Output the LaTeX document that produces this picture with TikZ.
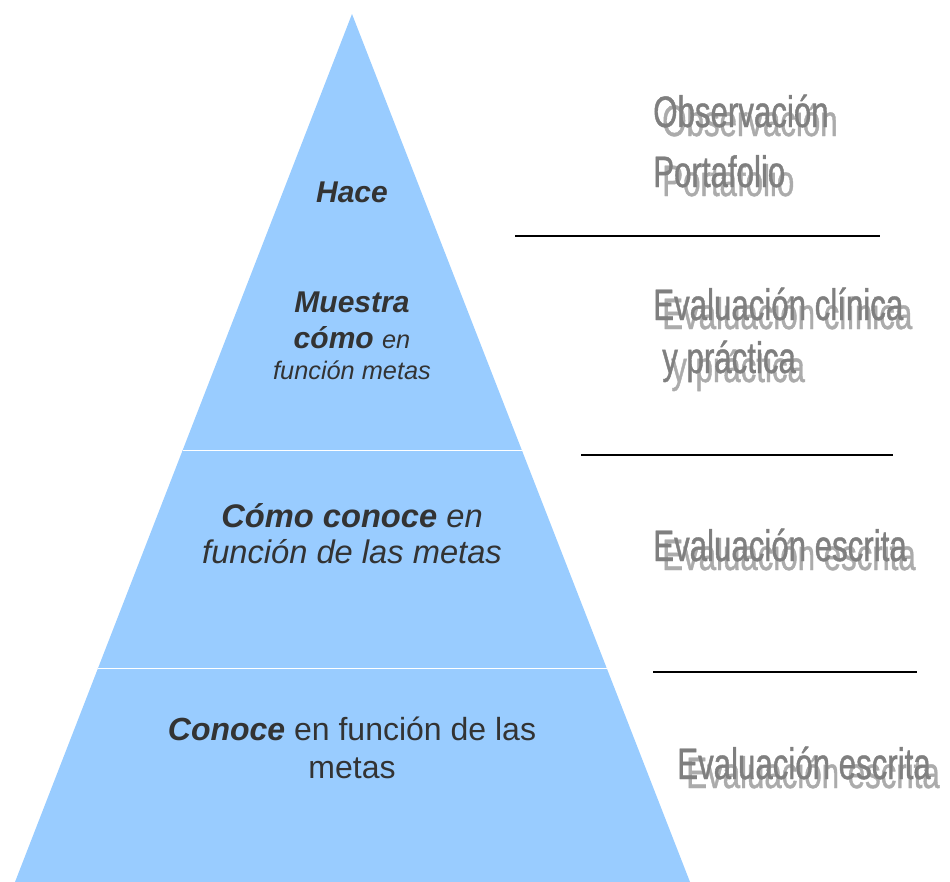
\documentclass[tikz,border=0pt]{standalone}
\usepackage{fontspec}
\setmainfont{Liberation Sans}
\newfontfamily\estrecha[FakeStretch=0.71, FakeBold=0.9]{Liberation Sans}
\usetikzlibrary{positioning}
\definecolor{piramide}{HTML}{99CCFF}
\definecolor{textoosc}{HTML}{333333}
\definecolor{metodogris}{HTML}{7F7F7F}
\definecolor{sombragris}{HTML}{ABABAB}
\tikzstyle{nivel} = [text = textoosc, align = center, inner sep = 0pt]
\tikzstyle{metodo} = [text = metodogris, anchor = base west, inner sep = 0pt, font = \estrecha\fontsize{33}{38}\selectfont]
\tikzstyle{sombra} = [metodo, text = sombragris, xshift = 6.75pt, yshift = -6.75pt]
\tikzstyle{linea} = [draw, line width = 1.1pt]
\tikzstyle{divisor} = [draw = white, line width = 0.6pt]

\begin{document}
\begin{tikzpicture}[x = 0.75pt, y = -0.75pt]
			\useasboundingbox (0, 0) rectangle (950, 882);
			% Pyramid
			\coordinate (cima) at (352, 14);
			\coordinate (baseizq) at (15, 882);
			\coordinate (baseder) at (690, 882);
			\fill [piramide] (cima) -- (baseizq) -- (baseder) -- cycle;
			\coordinate (div1izq) at (182.7, 450);
			\coordinate (div1der) at (521.8, 450);
			\coordinate (div2izq) at (98.1, 668);
			\coordinate (div2der) at (606.7, 668);
			\path [divisor] (div1izq) -- (div1der);
			\path [divisor] (div2izq) -- (div2der);
			% Levels
			\node [nivel, font = \bfseries\itshape\fontsize{22.5}{27}\selectfont] (hace) at (352, 192) {Hace};
			\node [nivel, font = \bfseries\itshape\fontsize{22.5}{27}\selectfont] (muestra) at (352, 302) {Muestra};
			\node [nivel, font = \itshape\fontsize{22.5}{27}\selectfont] (como) at (352, 338) {\textbf{cómo} {\fontsize{19}{23}\selectfont en}};
			\node [nivel, font = \itshape\fontsize{19}{23}\selectfont] (funcion) at (352, 370) {función metas};
			\node [nivel, font = \itshape\fontsize{24.5}{27}\selectfont] (comoconoce) at (352, 534) {\textbf{Cómo conoce} en\\función de las metas};
			\node [nivel, font = \fontsize{24}{28.5}\selectfont] (conoce) at (352, 748) {\textbf{\textit{Conoce}} en función de las\\metas};
			% Assessment methods
			\node [sombra] (obs s) at (653, 127) {Observación};
			\node [metodo] (obs) at (653, 127) {Observación};
			\node [sombra] (port s) at (653, 187) {Portafolio};
			\node [metodo] (port) at (653, 187) {Portafolio};
			\node [sombra] (clin s) at (653, 320) {Evaluación clínica};
			\node [metodo] (clin) at (653, 320) {Evaluación clínica};
			\node [sombra] (prac s) at (662, 373) {y práctica};
			\node [metodo] (prac) at (662, 373) {y práctica};
			\node [sombra] (escr1 s) at (653, 561) {Evaluación escrita};
			\node [metodo] (escr1) at (653, 561) {Evaluación escrita};
			\node [sombra] (escr2 s) at (677, 779) {Evaluación escrita};
			\node [metodo] (escr2) at (677, 779) {Evaluación escrita};
			% Separators
			\coordinate (sep1a) at (515, 236);
			\coordinate (sep1b) at (880, 236);
			\coordinate (sep2a) at (581, 455);
			\coordinate (sep2b) at (893, 455);
			\coordinate (sep3a) at (653, 672);
			\coordinate (sep3b) at (917, 672);
			\path [linea] (sep1a) -- (sep1b);
			\path [linea] (sep2a) -- (sep2b);
			\path [linea] (sep3a) -- (sep3b);
		\end{tikzpicture}
\end{document}
